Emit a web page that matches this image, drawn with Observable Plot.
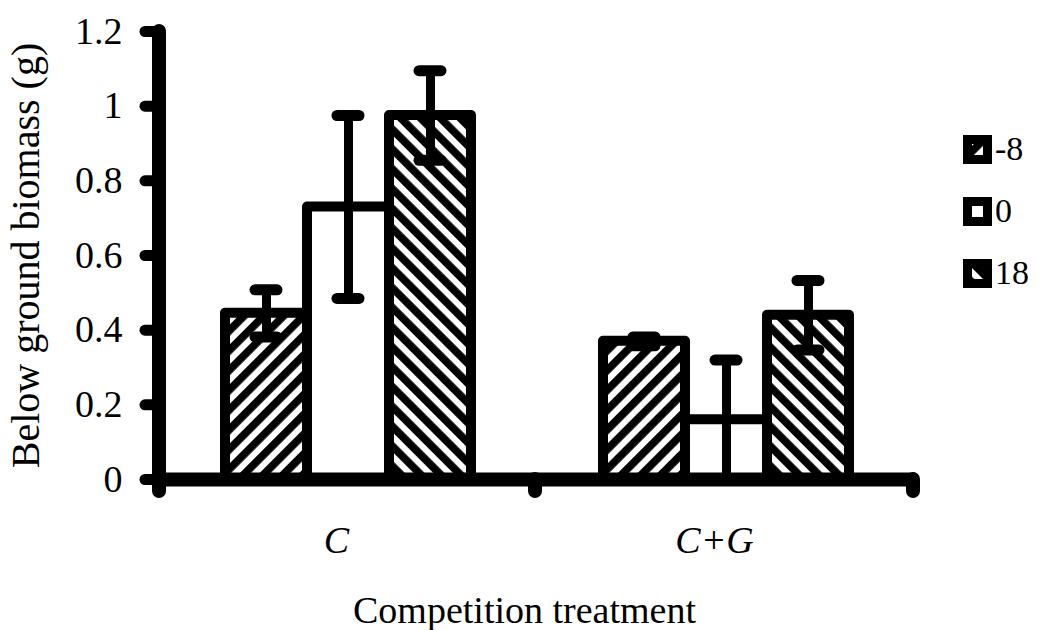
<!DOCTYPE html>
<html>
<head>
<meta charset="utf-8">
<script src="https://cdn.jsdelivr.net/npm/d3@7"></script>
<script src="https://cdn.jsdelivr.net/npm/@observablehq/plot@0.6"></script>
<style>
  html, body { margin: 0; padding: 0; background: #fff; }
  #wrap { position: relative; width: 1048px; height: 630px; font-family: "Liberation Serif", "Times New Roman", serif; }
  #legend { position: absolute; left: 963px; top: 118px; }
  .item { display: flex; align-items: center; height: 62px; }
  .item span { font-size: 34px; margin-left: 3px; line-height: 1; }
  g[aria-label="fx-axis tick label"] { font-style: italic; }
  g[aria-label="y-axis label"] { font-size: 40px; }
</style>
</head>
<body>
<svg width="0" height="0" style="position:absolute">
  <defs>
    <pattern id="hatchFwd" patternUnits="userSpaceOnUse" width="14" height="14" patternTransform="rotate(45)">
      <rect width="14" height="14" fill="white"></rect>
      <rect width="7.8" height="14" fill="black"></rect>
    </pattern>
    <pattern id="hatchBack" patternUnits="userSpaceOnUse" width="14" height="14" patternTransform="rotate(-45)">
      <rect width="14" height="14" fill="white"></rect>
      <rect width="7.8" height="14" fill="black"></rect>
    </pattern>
  </defs>
</svg>
<div id="wrap">
  <div id="chart"></div>
  <div id="legend"></div>
</div>
<script>
const groups = ["C", "C+G"];
const series = ["-8", "0", "18"];
const meanC = [0.445, 0.73, 0.975];
const meanCG = [0.37, 0.16, 0.44];
const errC = [0.063, 0.245, 0.12];
const errCG = [0.012, 0.16, 0.093];
const yTicks = [0, 0.2, 0.4, 0.6, 0.8, 1, 1.2];
const fills = ["url(#hatchFwd)", "white", "url(#hatchBack)"];
const xTitle = "Competition treatment";
const yTitle = "Below ground biomass (g)";

const means = [meanC, meanCG];
const errs = [errC, errCG];
const rows = [];
groups.forEach((g, i) => series.forEach((s, j) => rows.push({group: g, series: s, mean: means[i][j], err: errs[i][j]})));

const chart = Plot.plot({
  width: 1048,
  height: 630,
  marginLeft: 159,
  marginRight: 133,
  marginTop: 31,
  marginBottom: 151,
  style: {fontFamily: "Liberation Serif, Times New Roman, serif", fontSize: "38px", color: "black", background: "white", overflow: "visible"},
  fx: {domain: groups, padding: 0},
  x: {domain: series, paddingInner: 0, paddingOuter: 0.78, axis: null},
  y: {domain: [0, 1.2]},
  color: {type: "ordinal", domain: series, range: fills},
  marks: [
    Plot.barY(rows, {fx: "group", x: "series", y: "mean", fill: "series", stroke: "black", strokeWidth: 10, strokeLinejoin: "round"}),
    Plot.ruleX(rows, {fx: "group", x: "series", y1: d => d.mean - d.err, y2: d => d.mean + d.err, stroke: "black", strokeWidth: 9}),
    Plot.tickY(rows, {fx: "group", x: "series", y: d => d.mean + d.err, stroke: "black", strokeWidth: 11, strokeLinecap: "round", insetLeft: 30, insetRight: 30}),
    Plot.tickY(rows, {fx: "group", x: "series", y: d => d.mean - d.err, stroke: "black", strokeWidth: 11, strokeLinecap: "round", insetLeft: 30, insetRight: 30}),
    Plot.ruleY([0], {stroke: "black", strokeWidth: 14}),
    Plot.axisY({ticks: yTicks, tickSize: 14, tickPadding: 23, stroke: "black", strokeWidth: 11, strokeLinecap: "round",
      tickFormat: d => String(+d.toFixed(1)), label: yTitle, labelAnchor: "center", labelOffset: 149, labelArrow: "none"}),
    Plot.axisFx({anchor: "bottom", tickSize: 0, tickPadding: 47, dx: -12,
      label: xTitle, labelAnchor: "center", labelOffset: 143, labelArrow: "none"})
  ]
});
document.getElementById("chart").appendChild(chart);

// nudge the x title slightly left, as in the reference
const lab = d3.select(chart).select('g[aria-label="fx-axis label"]');
if (!lab.empty()) lab.attr("transform", ((lab.attr("transform") || "") + " translate(-13,0)").trim());

// axis line and between-group ticks derived from Plot's own scales
const fxS = chart.scale("fx"), yS = chart.scale("y");
const y0 = yS.apply(0), yTop = yS.apply(yTicks[yTicks.length - 1]);
const xLeft = fxS.apply(groups[0]);
const xBounds = groups.map(g => fxS.apply(g) + fxS.bandwidth);
const g = d3.select(chart).append("g").attr("stroke", "black").attr("stroke-linecap", "round").attr("fill", "none");
g.append("path").attr("stroke-width", 14).attr("d", `M${xLeft},${yTop}V${y0 + 12}`);
xBounds.forEach(x => g.append("path").attr("stroke-width", 14).attr("d", `M${x - 2},${y0}V${y0 + 12}`));

// legend
const legend = d3.select("#legend");
series.forEach((s, i) => {
  const item = legend.append("div").attr("class", "item");
  const sw = item.append("svg").attr("width", 29).attr("height", 29);
  sw.append("rect").attr("x", 4.5).attr("y", 4.5).attr("width", 20).attr("height", 20)
    .attr("fill", fills[i]).attr("stroke", "black").attr("stroke-width", 9);
  item.append("span").text(s);
});
</script>
</body>
</html>
